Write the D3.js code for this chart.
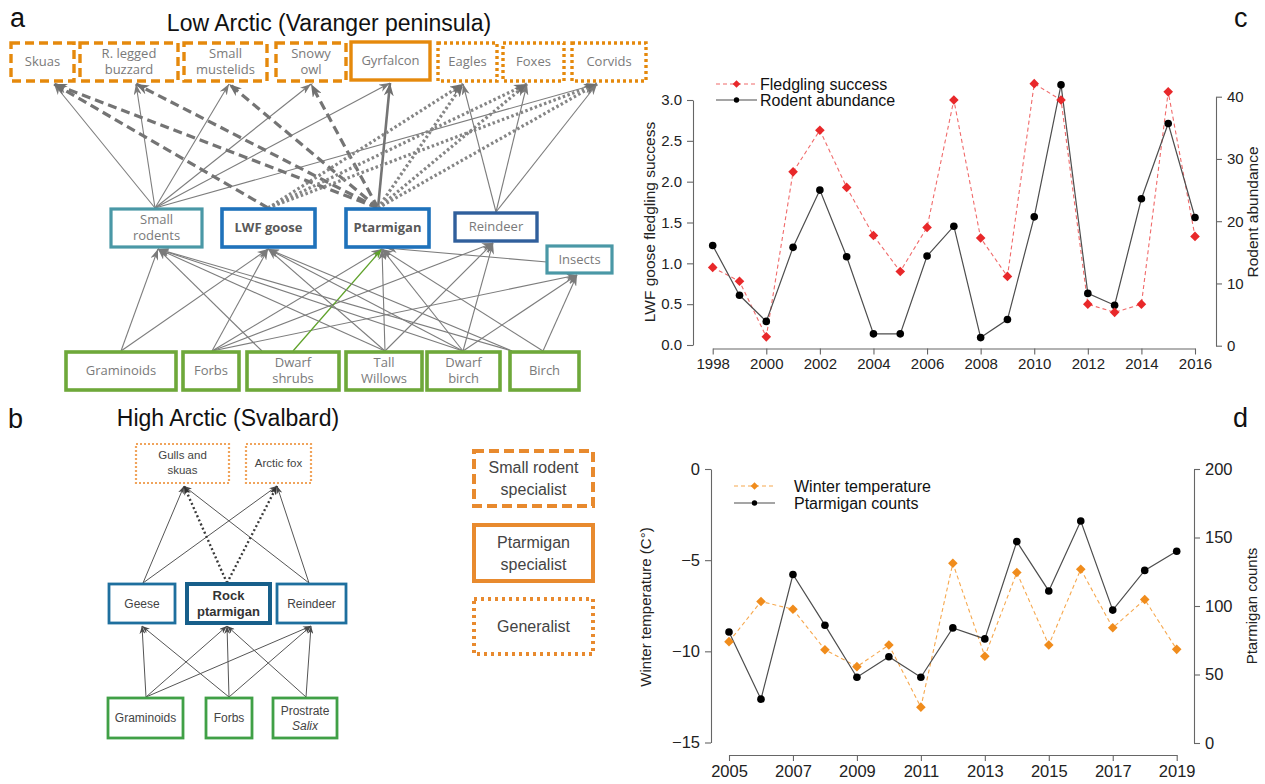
<!DOCTYPE html>
<html>
<head>
<meta charset="utf-8">
<script src="https://cdn.jsdelivr.net/npm/d3@7"></script>
<style>
  body { margin: 0; background: #fff; }
  svg { display: block; }
</style>
</head>
<body>
<svg id="fig" width="1265" height="784"></svg>
<script>
// ---------------- Panel c: LWF goose fledgling success vs rodent abundance ----------------
const yearsC = [1998, 1999, 2000, 2001, 2002, 2003, 2004, 2005, 2006, 2007, 2008, 2009, 2010, 2011, 2012, 2013, 2014, 2015, 2016];
const fledglingSuccess = [0.95, 0.78, 0.10, 2.12, 2.63, 1.93, 1.34, 0.90, 1.44, 3.00, 1.31, 0.84, 3.20, 3.00, 0.50, 0.40, 0.50, 3.10, 1.33];
const rodentAbundance = [16.1, 8.1, 3.9, 15.8, 25.0, 14.3, 1.9, 1.9, 14.4, 19.2, 1.3, 4.2, 20.7, 41.9, 8.4, 6.5, 23.6, 35.7, 20.6];
const xTicksC = [1998, 2000, 2002, 2004, 2006, 2008, 2010, 2012, 2014, 2016];
const yTicksC = [0, 0.5, 1, 1.5, 2, 2.5, 3];
const rTicksC = [0, 10, 20, 30, 40];

// ---------------- Panel d: winter temperature vs ptarmigan counts ----------------
const yearsD = [2005, 2006, 2007, 2008, 2009, 2010, 2011, 2012, 2013, 2014, 2015, 2016, 2017, 2018, 2019];
const winterTemp = [-9.47, -7.27, -7.69, -9.91, -10.84, -9.65, -13.06, -5.17, -10.27, -5.68, -9.65, -5.50, -8.71, -7.16, -9.89];
const ptarmiganCounts = [81, 32, 123, 86, 48, 63, 48, 84, 76, 147, 111, 162, 97, 126, 140];
const xTicksD = [2005, 2007, 2009, 2011, 2013, 2015, 2017, 2019];
const yTicksD = [-15, -10, -5, 0];
const rTicksD = [0, 50, 100, 150, 200];

// ---------------- Panel a: Low Arctic food web ----------------
const predatorsA = ["skuas", "buzzard", "mustelids", "owl", "gyrfalcon", "eagles", "foxes", "corvids"];
const predatorLabelsA = [["Skuas"], ["R. legged", "buzzard"], ["Small", "mustelids"], ["Snowy", "owl"], ["Gyrfalcon"], ["Eagles"], ["Foxes"], ["Corvids"]];
const predatorGuildA = ["rodent", "rodent", "rodent", "rodent", "ptarmigan", "generalist", "generalist", "generalist"];
const herbivoresA = ["rodents", "goose", "ptarmigan", "reindeer", "insects"];
const herbivoreLabelsA = [["Small", "rodents"], ["LWF goose"], ["Ptarmigan"], ["Reindeer"], ["Insects"]];
const plantsA = ["graminoids", "forbs", "shrubs", "willows", "dwarfbirch", "birch"];
const plantLabelsA = [["Graminoids"], ["Forbs"], ["Dwarf", "shrubs"], ["Tall", "Willows"], ["Dwarf", "birch"], ["Birch"]];
// [prey, consumer, link type]
const linksA = [
  ["rodents", "skuas", "thin"], ["rodents", "buzzard", "thin"], ["rodents", "mustelids", "thin"],
  ["rodents", "owl", "thin"], ["rodents", "gyrfalcon", "thin"], ["rodents", "corvids", "thin"],
  ["goose", "skuas", "dash"], ["ptarmigan", "skuas", "dash"], ["ptarmigan", "buzzard", "dash"],
  ["ptarmigan", "mustelids", "dash"], ["ptarmigan", "owl", "dash"],
  ["ptarmigan", "gyrfalcon", "bold"],
  ["goose", "eagles", "dot"], ["goose", "foxes", "dot"], ["goose", "corvids", "dot"],
  ["ptarmigan", "eagles", "dot"], ["ptarmigan", "foxes", "dot"], ["ptarmigan", "corvids", "dot"],
  ["reindeer", "eagles", "thin"], ["reindeer", "foxes", "thin"], ["reindeer", "corvids", "thin"],
  ["graminoids", "rodents", "thin"], ["graminoids", "goose", "thin"],
  ["forbs", "goose", "thin"], ["forbs", "ptarmigan", "thin"], ["forbs", "reindeer", "thin"], ["forbs", "insects", "thin"],
  ["shrubs", "rodents", "thin"], ["shrubs", "ptarmigan", "green"],
  ["willows", "rodents", "thin"], ["willows", "goose", "thin"], ["willows", "ptarmigan", "thin"], ["willows", "reindeer", "thin"],
  ["dwarfbirch", "rodents", "thin"], ["dwarfbirch", "goose", "thin"], ["dwarfbirch", "ptarmigan", "thin"],
  ["dwarfbirch", "reindeer", "thin"], ["dwarfbirch", "insects", "thin"],
  ["birch", "rodents", "thinL"], ["birch", "goose", "thinL"], ["birch", "ptarmigan", "thin"], ["birch", "insects", "thin"],
  ["insects", "ptarmigan", "side"]
];

// ---------------- Panel b: High Arctic food web ----------------
const predatorsB = ["gulls", "arcticfox"];
const predatorLabelsB = [["Gulls and", "skuas"], ["Arctic fox"]];
const herbivoresB = ["geese", "rock", "reindeerB"];
const herbivoreLabelsB = [["Geese"], ["Rock", "ptarmigan"], ["Reindeer"]];
const plantsB = ["gramB", "forbsB", "salix"];
const plantLabelsB = [["Graminoids"], ["Forbs"], ["Prostrate", "Salix"]];
const linksB = [
  ["geese", "gulls", "thin"], ["geese", "arcticfox", "thin"],
  ["reindeerB", "gulls", "thin"], ["reindeerB", "arcticfox", "thin"],
  ["rock", "gulls", "dot"], ["rock", "arcticfox", "dot"],
  ["gramB", "geese", "thin"], ["gramB", "rock", "thin"], ["gramB", "reindeerB", "thin"],
  ["forbsB", "geese", "thin"], ["forbsB", "rock", "thin"], ["forbsB", "reindeerB", "thin"],
  ["salix", "rock", "thin"], ["salix", "reindeerB", "thin"]
];

// ---------------- Guild legend ----------------
const guildLegend = [["Small rodent", "specialist"], ["Ptarmigan", "specialist"], ["Generalist"]];
const guildKeys = ["rodent", "ptarmigan", "generalist"];

// =====================================================================
// Layout (pixel geometry of the diagram boxes and their link ports)
// box: [x0, y0, x1, y1]; top/bottom: port where links leave / arrive
const layoutA = {
  skuas:      { box: [11, 43, 74, 81],   bottom: [54, 84] },
  buzzard:    { box: [80, 43, 178, 81],  bottom: [136, 84] },
  mustelids:  { box: [184, 43, 267, 81], bottom: [229, 84] },
  owl:        { box: [276, 43, 346, 81], bottom: [311, 84] },
  gyrfalcon:  { box: [351, 42, 430, 80], bottom: [390, 83] },
  eagles:     { box: [438, 43, 497, 81], bottom: [463, 84] },
  foxes:      { box: [503, 43, 564, 81], bottom: [527, 84] },
  corvids:    { box: [572, 43, 646, 81], bottom: [597, 84] },
  rodents:    { box: [111, 209, 202, 247], top: [155, 208], bottom: [158, 249] },
  goose:      { box: [222, 209, 315, 247], top: [268, 208], bottom: [268, 249] },
  ptarmigan:  { box: [346, 209, 429, 247], top: [378, 208], bottom: [382, 249] },
  reindeer:   { box: [455, 213, 537, 241], top: [496, 212], bottom: [493, 243] },
  insects:    { box: [547, 246, 612, 273], bottom: [577, 275], side: [547, 262] },
  graminoids: { box: [66, 352, 176, 390],  top: [121, 351] },
  forbs:      { box: [183, 352, 239, 390], top: [212, 351] },
  shrubs:     { box: [247, 352, 339, 390], top: [262, 351], green: [293, 351] },
  willows:    { box: [346, 352, 422, 390], top: [385, 351] },
  dwarfbirch: { box: [427, 352, 500, 390], top: [463, 351] },
  birch:      { box: [510, 352, 579, 390], top: [543, 351], thinL: [512, 351] }
};
const layoutB = {
  gulls:     { box: [136, 444, 229, 483], bottom: [184, 486] },
  arcticfox: { box: [246, 444, 311, 483], bottom: [277, 486] },
  geese:     { box: [109, 584, 175, 623], top: [143, 583], bottom: [142, 626] },
  rock:      { box: [187, 584, 270, 623], top: [227, 583], bottom: [227, 626] },
  reindeerB: { box: [277, 584, 346, 623], top: [309, 583], bottom: [311, 626] },
  gramB:     { box: [108, 698, 183, 738], top: [146, 697] },
  forbsB:    { box: [206, 698, 252, 738], top: [229, 697] },
  salix:     { box: [273, 698, 337, 738], top: [306, 697] }
};
const legendBoxes = [[474, 451, 593, 506], [474, 525, 593, 581], [474, 599, 593, 654]];

const FONT_R = '"Liberation Sans", Arial, Helvetica, sans-serif';
const FONT_UI = '"Open Sans", "Noto Sans", sans-serif';
const ORANGE = "#e5890c";
const ORANGE_B = "#f0a45c";
const ORANGE_L = "#e88a2e";

const svg = d3.select("#fig");
svg.append("rect").attr("width", 1265).attr("height", 784).attr("fill", "#fff");

// arrowhead markers
const defs = svg.append("defs");
function arrowMarker(id, color, len, wid) {
  defs.append("marker")
    .attr("id", id)
    .attr("markerUnits", "userSpaceOnUse")
    .attr("viewBox", `0 0 ${len} ${wid}`)
    .attr("markerWidth", len).attr("markerHeight", wid)
    .attr("refX", len).attr("refY", wid / 2)
    .attr("orient", "auto")
    .append("path")
    .attr("d", `M0,0 L${len},${wid / 2} L0,${wid} L${len * 0.3},${wid / 2} Z`)
    .attr("fill", color);
}
arrowMarker("arrA", "#7a7a7a", 11, 8);
arrowMarker("arrAbig", "#6f6f6f", 13, 10);
arrowMarker("arrGreen", "#5fa22a", 10, 7);
arrowMarker("arrB", "#4a4a4a", 8, 6);
arrowMarker("arrBdot", "#333", 9, 7);

function drawLabel(g, lines, cx, cy, opts) {
  const lh = opts.lineHeight;
  const t = g.append("text")
    .attr("x", cx)
    .attr("text-anchor", "middle")
    .attr("font-family", opts.family)
    .attr("font-size", opts.size)
    .attr("font-weight", opts.weight || "normal")
    .attr("fill", opts.color);
  lines.forEach((ln, i) => {
    t.append("tspan")
      .attr("x", cx)
      .attr("y", cy + (i - (lines.length - 1) / 2) * lh)
      .attr("dy", "0.36em")
      .attr("font-style", opts.italicLine === i ? "italic" : null)
      .text(ln);
  });
}

function drawBox(g, b, stroke, width, dash) {
  g.append("rect")
    .attr("x", b[0]).attr("y", b[1])
    .attr("width", b[2] - b[0]).attr("height", b[3] - b[1])
    .attr("fill", "#fff")
    .attr("stroke", stroke)
    .attr("stroke-width", width)
    .attr("stroke-dasharray", dash || null);
}

const guildDash = { rodent: "9,5", ptarmigan: null, generalist: "3,3" };

// ---------------- Panel a ----------------
const gA = svg.append("g");
gA.append("text").attr("x", 10).attr("y", 27).attr("font-family", FONT_R).attr("font-size", 27).attr("fill", "#111").text("a");
gA.append("text").attr("x", 329).attr("y", 31).attr("text-anchor", "middle").attr("font-family", FONT_R)
  .attr("font-size", 23).attr("fill", "#111").text("Low Arctic (Varanger peninsula)");

const linkStyleA = {
  thin:  { stroke: "#7d7d7d", w: 1.1, dash: null, marker: "arrA" },
  thinL: { stroke: "#7d7d7d", w: 1.1, dash: null, marker: "arrA" },
  side:  { stroke: "#7d7d7d", w: 1.1, dash: null, marker: "arrA" },
  dash:  { stroke: "#747474", w: 3.2, dash: "9,5", marker: "arrAbig" },
  dot:   { stroke: "#858585", w: 3.2, dash: "2.5,2.5", marker: "arrAbig" },
  bold:  { stroke: "#747474", w: 2.6, dash: null, marker: "arrAbig" },
  green: { stroke: "#5fa22a", w: 1.3, dash: null, marker: "arrGreen" }
};
const linkLayerA = gA.append("g");
linksA.forEach(([s, t, kind]) => {
  const src = layoutA[s], tgt = layoutA[t];
  const p0 = src[kind] || (kind === "side" ? src.side : src.top);
  const p1 = kind === "side" ? [tgt.bottom[0] + 4, tgt.bottom[1] - 1] : tgt.bottom;
  const st = linkStyleA[kind];
  linkLayerA.append("line")
    .attr("x1", p0[0]).attr("y1", p0[1]).attr("x2", p1[0]).attr("y2", p1[1])
    .attr("stroke", st.stroke).attr("stroke-width", st.w)
    .attr("stroke-dasharray", st.dash)
    .attr("marker-end", `url(#${st.marker})`);
});

predatorsA.forEach((id, i) => {
  const b = layoutA[id].box;
  drawBox(gA, b, ORANGE, 3.4, guildDash[predatorGuildA[i]]);
  drawLabel(gA, predatorLabelsA[i], (b[0] + b[2]) / 2, (b[1] + b[3]) / 2 - 0.5,
    { family: FONT_UI, size: 13, color: "#7a7a7a", lineHeight: 16 });
});
const herbStroke = ["#4a98a6", "#1f72bb", "#1f72bb", "#305f9c", "#4a98a6"];
const herbWidth = [3.2, 3.6, 3.6, 3.4, 3.2];
herbivoresA.forEach((id, i) => {
  const b = layoutA[id].box;
  drawBox(gA, b, herbStroke[i], herbWidth[i]);
  const bold = id === "goose" || id === "ptarmigan";
  drawLabel(gA, herbivoreLabelsA[i], (b[0] + b[2]) / 2, (b[1] + b[3]) / 2 - 0.5,
    { family: FONT_UI, size: 13, color: bold ? "#595959" : "#7a7a7a", weight: bold ? "bold" : "normal", lineHeight: 16 });
});
plantsA.forEach((id, i) => {
  const b = layoutA[id].box;
  drawBox(gA, b, "#6ea83a", 3.6);
  drawLabel(gA, plantLabelsA[i], (b[0] + b[2]) / 2, (b[1] + b[3]) / 2 - 0.5,
    { family: FONT_UI, size: 13, color: "#7a7a7a", lineHeight: 16 });
});

// ---------------- Panel b ----------------
const gB = svg.append("g");
gB.append("text").attr("x", 8).attr("y", 428).attr("font-family", FONT_R).attr("font-size", 27).attr("fill", "#111").text("b");
gB.append("text").attr("x", 228).attr("y", 426).attr("text-anchor", "middle").attr("font-family", FONT_R)
  .attr("font-size", 23).attr("fill", "#111").text("High Arctic (Svalbard)");

const linkLayerB = gB.append("g");
linksB.forEach(([s, t, kind]) => {
  const p0 = layoutB[s].top, p1 = layoutB[t].bottom;
  const dotted = kind === "dot";
  linkLayerB.append("line")
    .attr("x1", p0[0]).attr("y1", p0[1]).attr("x2", p1[0]).attr("y2", p1[1])
    .attr("stroke", dotted ? "#3a3a3a" : "#555")
    .attr("stroke-width", dotted ? 2.4 : 1)
    .attr("stroke-dasharray", dotted ? "2,2.5" : null)
    .attr("marker-end", dotted ? "url(#arrBdot)" : "url(#arrB)");
});
predatorsB.forEach((id, i) => {
  const b = layoutB[id].box;
  drawBox(gB, b, ORANGE_B, 2.2, "2,2");
  drawLabel(gB, predatorLabelsB[i], (b[0] + b[2]) / 2, (b[1] + b[3]) / 2 - 1,
    { family: FONT_R, size: 11.5, color: "#444", lineHeight: 15 });
});
herbivoresB.forEach((id, i) => {
  const b = layoutB[id].box;
  const main = id === "rock";
  drawBox(gB, b, main ? "#175f8a" : "#1e6f9e", main ? 4 : 2.8);
  drawLabel(gB, herbivoreLabelsB[i], (b[0] + b[2]) / 2, (b[1] + b[3]) / 2,
    { family: FONT_R, size: main ? 13 : 12, color: main ? "#333" : "#444", weight: main ? "bold" : "normal", lineHeight: 16 });
});
plantsB.forEach((id, i) => {
  const b = layoutB[id].box;
  drawBox(gB, b, "#40a046", 2.8);
  drawLabel(gB, plantLabelsB[i], (b[0] + b[2]) / 2, (b[1] + b[3]) / 2,
    { family: FONT_R, size: 12, color: "#444", lineHeight: 15, italicLine: id === "salix" ? 1 : -1 });
});

// guild legend
guildKeys.forEach((k, i) => {
  const b = legendBoxes[i];
  drawBox(gB, b, ORANGE_L, 4, k === "rodent" ? "10,5" : k === "generalist" ? "3,4" : null);
  drawLabel(gB, guildLegend[i], (b[0] + b[2]) / 2, (b[1] + b[3]) / 2,
    { family: FONT_R, size: 16, color: "#444", lineHeight: 22 });
});

// ---------------- shared helpers for the two line charts ----------------
const diamond = h => `M0,${-h} L${h},0 L0,${h} L${-h},0 Z`;

function styleAxis(g, fontSize) {
  g.selectAll(".domain").attr("stroke", "#666").attr("stroke-width", 1.1);
  g.selectAll(".tick line").attr("stroke", "#666").attr("stroke-width", 1.1);
  g.selectAll(".tick text").attr("fill", "#222").attr("font-family", FONT_R).attr("font-size", fontSize);
}

function lineChart(cfg) {
  const g = svg.append("g");
  const x = d3.scaleLinear().domain(cfg.xDomain).range(cfg.xRange);
  const yL = d3.scaleLinear().domain(cfg.yLDomain).range(cfg.yLRange);
  const yR = d3.scaleLinear().domain(cfg.yRDomain).range(cfg.yRRange);

  const ax = g.append("g").attr("transform", `translate(0,${cfg.xAxisY})`)
    .call(d3.axisBottom(x).tickValues(cfg.xTicks).tickFormat(d3.format("d")).tickSize(6).tickSizeOuter(0).tickPadding(4));
  styleAxis(ax, cfg.tickFont);
  const al = g.append("g").attr("transform", `translate(${cfg.yLAxisX},0)`)
    .call(d3.axisLeft(yL).tickValues(cfg.yLTicks).tickFormat(cfg.yLFormat).tickSize(6).tickSizeOuter(0).tickPadding(5));
  styleAxis(al, cfg.tickFont);
  const ar = g.append("g").attr("transform", `translate(${cfg.yRAxisX},0)`)
    .call(d3.axisRight(yR).tickValues(cfg.yRTicks).tickFormat(d3.format("d")).tickSize(6).tickSizeOuter(0).tickPadding(5));
  styleAxis(ar, cfg.tickFont);

  // series drawn on the left axis (diamonds, dashed)
  const lineL = d3.line().x((d, i) => x(cfg.years[i])).y(d => yL(d));
  const lineR = d3.line().x((d, i) => x(cfg.years[i])).y(d => yR(d));

  g.append("path").datum(cfg.seriesL).attr("d", lineL)
    .attr("fill", "none").attr("stroke", cfg.dashColor).attr("stroke-width", 1.1).attr("stroke-dasharray", "4,3");
  g.append("path").datum(cfg.seriesR).attr("d", lineR)
    .attr("fill", "none").attr("stroke", "#4d4d4d").attr("stroke-width", 1.2);

  g.selectAll(".ptR").data(cfg.seriesR).enter().append("circle")
    .attr("cx", (d, i) => x(cfg.years[i])).attr("cy", d => yR(d)).attr("r", 3.8).attr("fill", "#000");
  g.selectAll(".ptL").data(cfg.seriesL).enter().append("path")
    .attr("transform", (d, i) => `translate(${x(cfg.years[i])},${yL(d)})`)
    .attr("d", diamond(4.8)).attr("fill", cfg.markColor);

  // axis titles
  g.append("text").attr("transform", `translate(${cfg.yLTitleX},${cfg.yLTitleY}) rotate(-90)`)
    .attr("text-anchor", "middle").attr("dy", "0.35em").attr("font-family", FONT_R)
    .attr("font-size", cfg.titleFont).attr("fill", "#222").text(cfg.yLTitle);
  g.append("text").attr("transform", `translate(${cfg.yRTitleX},${cfg.yRTitleY}) rotate(-90)`)
    .attr("text-anchor", "middle").attr("dy", "0.35em").attr("font-family", FONT_R)
    .attr("font-size", cfg.titleFont).attr("fill", "#222").text(cfg.yRTitle);

  // legend
  const lg = cfg.legend;
  const mid = (lg.x0 + lg.x1) / 2;
  g.append("line").attr("x1", lg.x0).attr("x2", lg.x1).attr("y1", lg.y0).attr("y2", lg.y0)
    .attr("stroke", cfg.dashColor).attr("stroke-width", 1.1).attr("stroke-dasharray", "4,3");
  g.append("path").attr("transform", `translate(${mid},${lg.y0})`).attr("d", diamond(3.8)).attr("fill", cfg.markColor);
  g.append("line").attr("x1", lg.x0).attr("x2", lg.x1).attr("y1", lg.y1).attr("y2", lg.y1)
    .attr("stroke", "#4d4d4d").attr("stroke-width", 1.2);
  g.append("circle").attr("cx", mid).attr("cy", lg.y1).attr("r", 2.7).attr("fill", "#000");
  [[lg.labelL, lg.y0], [lg.labelR, lg.y1]].forEach(([txt, yy]) => {
    g.append("text").attr("x", lg.tx).attr("y", yy).attr("dy", "0.35em").attr("font-family", FONT_R)
      .attr("font-size", 16).attr("fill", "#111").text(txt);
  });

  g.append("text").attr("x", cfg.letterX).attr("y", cfg.letterY).attr("font-family", FONT_R)
    .attr("font-size", 27).attr("fill", "#111").text(cfg.letter);
}

// ---------------- Panel c ----------------
lineChart({
  letter: "c", letterX: 1234, letterY: 27,
  years: yearsC, seriesL: fledglingSuccess, seriesR: rodentAbundance,
  xDomain: [1998, 2016], xRange: [712.7, 1195], xTicks: xTicksC, xAxisY: 348.5,
  yLDomain: [0, 3], yLRange: [345, 100], yLTicks: yTicksC, yLFormat: d3.format(".1f"), yLAxisX: 693,
  yRDomain: [0, 40], yRRange: [345.7, 96.7], yRTicks: rTicksC, yRAxisX: 1216,
  tickFont: 15, titleFont: 15.5,
  yLTitle: "LWF goose fledgling success", yLTitleX: 650, yLTitleY: 222,
  yRTitle: "Rodent abundance", yRTitleX: 1253, yRTitleY: 212,
  dashColor: "#f06a6a", markColor: "#e8282a",
  legend: { x0: 716, x1: 757, y0: 84, y1: 100, tx: 760, labelL: "Fledgling success", labelR: "Rodent abundance" }
});

// ---------------- Panel d ----------------
lineChart({
  letter: "d", letterX: 1233, letterY: 427,
  years: yearsD, seriesL: winterTemp, seriesR: ptarmiganCounts,
  xDomain: [2005, 2019], xRange: [729, 1176.7], xTicks: xTicksD, xAxisY: 755,
  yLDomain: [-15, 0], yLRange: [742.5, 469], yLTicks: yTicksD, yLFormat: d3.format("d"), yLAxisX: 711,
  yRDomain: [0, 200], yRRange: [743, 469], yRTicks: rTicksD, yRAxisX: 1194,
  tickFont: 16.5, titleFont: 15,
  yLTitle: "Winter temperature (C°)", yLTitleX: 646, yLTitleY: 607,
  yRTitle: "Ptarmigan counts", yRTitleX: 1252, yRTitleY: 606,
  dashColor: "#f6a84e", markColor: "#f08c1c",
  legend: { x0: 734, x1: 775, y0: 486, y1: 503, tx: 794, labelL: "Winter temperature", labelR: "Ptarmigan counts" }
});
</script>
</body>
</html>
